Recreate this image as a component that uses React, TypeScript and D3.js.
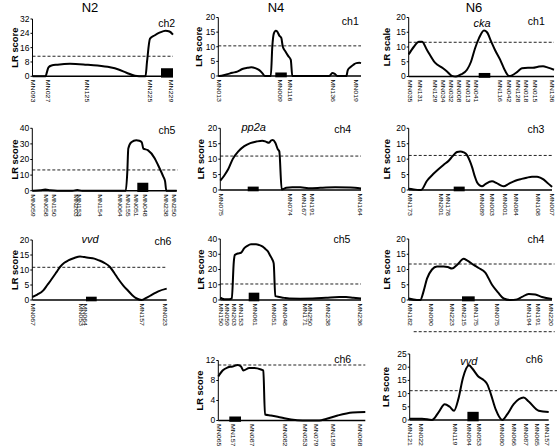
import React from "react";
import * as d3 from "d3";

// ---------------- DATA ----------------
const columnTitles = ["N2", "N4", "N6"];

// N2 ch2
const n2ch2Markers = ["MN093", "MN027", "MN125", "MN225", "MN229"];
const n2ch2MarkerPos = [0, 15.5, 54.5, 117.5, 138.5];
const n2ch2Pos = [0, 13, 14.5, 16, 19, 25, 37.5, 54, 65, 77.5, 86, 94, 102.5, 110.5, 113, 114.5, 117.5, 122, 127.5, 133, 137, 140.5];
const n2ch2Lod = [0, 0, 2.5, 5, 6, 6.5, 7, 6.5, 6, 5, 3.8, 2, 0.3, 0, 0, 8, 21, 22.8, 24.5, 25.5, 25, 23.3];

// N4 ch1
const n4ch1Markers = ["MN013", "MN009", "MN116", "MN136", "MN019"];
const n4ch1MarkerPos = [0.7, 61.7, 71.7, 114.7, 137.7];
const n4ch1Pos = [0, 1, 8, 14, 19, 24, 29, 33, 37, 41, 44, 46.5, 52.5, 54, 55.5, 57.5, 59, 61, 63, 64.5, 67, 70, 72.5, 74, 111, 114, 116.5, 119, 128, 129.5, 132, 135, 138, 141, 142.7];
const n4ch1Lod = [0, 0, 0.5, 1.1, 1.5, 2.4, 2.8, 3, 2.7, 2, 1, 0, 0, 10, 14.5, 15.5, 15.2, 13.8, 13, 10, 8.5, 6.8, 5.5, 0, 0, 1, 0.7, 0, 0, 2, 3, 3.8, 4.4, 4.5, 4.4];

// N6 ch1
const n6ch1Markers = ["MN035", "MN131", "MN129", "MN034", "MN032", "MN008", "MN013", "MN041", "MN116", "MN042", "MN128", "MN018", "MN015", "MN136"];
const n6ch1MarkerPos = [1, 11, 26, 34.3, 42.3, 50.3, 59.3, 67.3, 91.3, 100, 109.3, 117.3, 126, 143.3];
const n6ch1Pos = [0, 5, 10.3, 13.3, 18.3, 26.3, 34.3, 38.3, 43.3, 47.3, 52.3, 58.3, 62.3, 66.3, 70.3, 75.3, 78.3, 82.3, 86.3, 91.3, 96.3, 100.3, 103.3, 108.3, 113.3, 119.3, 124.3, 129.3, 134.3, 139.3, 145.3];
const n6ch1Lod = [7.5, 10, 11.8, 11.8, 9, 4.7, 2.8, 1.7, 0.2, 0, 0.7, 2.3, 5, 9.5, 13, 15.6, 15, 12, 9, 5.8, 2, 0.2, 0.4, 1.5, 2.8, 3, 3, 3.3, 3.5, 3, 2.3];

// N2 ch5
const n2ch5Markers = ["MN059", "MN058", "MN150", "MN203", "MN153", "MN154", "MN064", "MN155", "MN051", "MN048", "MN238", "MN250"];
const n2ch5MarkerPos = [0, 13.4, 21, 43.7, 46.7, 67.7, 87.7, 95.4, 103.4, 112, 133.4, 141];
const n2ch5Pos = [0, 8, 13, 18, 25, 40, 45, 50, 93.5, 95, 96, 99, 104, 107, 109.5, 111, 115.5, 122.5, 125.7, 129, 131, 132.8, 134, 144.4];
const n2ch5Lod = [0, 0.3, 0.7, 0.3, 0, 0, 0.4, 0, 0, 12, 27, 31, 32.3, 32, 31, 27, 26, 20.7, 16.5, 12, 9, 6, 0, 0];

// N4 ch4
const n4ch4Markers = ["MN075", "MN074", "MN167", "MN191", "MN164"];
const n4ch4MarkerPos = [0, 69.7, 83.4, 91.4, 139];
const n4ch4Pos = [0, 4, 8, 12.4, 18, 24, 30, 36, 42, 46, 48.5, 51, 52.5, 55, 57.5, 59, 61.4, 66, 72, 80, 88, 100, 115, 130, 140.7];
const n4ch4Lod = [3, 4.7, 6.8, 10, 12.5, 14.2, 15.2, 15.7, 16, 15.6, 15.3, 16.1, 16.2, 15.3, 13.2, 12.5, 0.2, 0.7, 0.9, 0.9, 0.6, 0.7, 0.9, 0.8, 0.5];

// N6 ch3
const n6ch3Markers = ["MN173", "MN201", "MN178", "MN089", "MN003", "MN001", "MN084", "MN108", "MN007"];
const n6ch3MarkerPos = [1.3, 31.6, 39.3, 73.3, 83.3, 96, 106.6, 129, 142.6];
const n6ch3Pos = [0, 5, 10, 12.3, 18.3, 24, 30, 35, 40, 44, 48.3, 51.6, 55, 58.3, 61, 63.3, 66, 68.3, 71, 73.3, 77, 83.3, 88, 92, 95, 100, 106.6, 113, 118, 123.3, 128.3, 131.5, 134.3, 138, 143.3];
const n6ch3Lod = [0.4, 0.2, 0, 0, 3, 5, 6.8, 8.2, 9.5, 11, 12.3, 12.5, 12.2, 11.3, 9.5, 7.5, 4.5, 2.5, 1.5, 1.2, 2, 2.8, 2.2, 1.5, 1.2, 2, 3, 3.6, 4, 4.3, 4.3, 4, 3.5, 2.5, 1];

// N2 ch6
const n2ch6Markers = ["MN067", "MN053", "MN064", "MN157", "MN023"];
const n2ch6MarkerPos = [0, 48.5, 52, 109.4, 132];
const n2ch6Pos = [0, 5, 11, 15, 19.4, 24, 27.7, 32, 36, 42, 47.7, 52, 56, 62, 66, 72, 77.7, 82, 86, 91, 96, 100, 104.4, 109.4, 114, 119.4, 126, 134.4];
const n2ch6Lod = [1, 1.8, 3.2, 5, 7, 9.2, 11, 12.4, 13.2, 14, 14.5, 14.3, 14.1, 13.8, 13.3, 12.4, 11, 9, 7, 4.8, 3, 1.6, 0.5, 0, 0.7, 1.7, 2.9, 3.8];

// N4 ch5
const n4ch5Markers = ["MN150", "MN059", "MN203", "MN153", "MN061", "MN051", "MN048", "MN171", "MN250", "MN238", "MN236"];
const n4ch5MarkerPos = [0, 6.4, 13.4, 20.7, 34, 53.4, 64.7, 84, 89.7, 107.4, 139];
const n4ch5Pos = [0, 2, 4, 9, 11.5, 13.5, 14.5, 17.4, 20.7, 24, 27, 30.7, 35.7, 39, 42.4, 45, 47.4, 50, 51.7, 53.4, 55, 59, 64, 69, 80, 92.4, 105.7, 119, 125.7, 133, 140.7];
const n4ch5Lod = [1.5, 0.8, 0.5, 0.5, 1, 25, 29.5, 30.5, 31, 34, 35.5, 36.5, 36.5, 36, 35, 33.5, 32, 29, 27, 24, 2.5, 2, 1.4, 1, 0.9, 1, 1.5, 2, 2, 1.5, 1];

// N6 ch4
const n6ch4Markers = ["MN182", "MN090", "MN223", "MN215", "MN175", "MN075", "MN194", "MN191", "MN220"];
const n6ch4MarkerPos = [1, 21.6, 43.3, 55, 66.6, 88.3, 120, 129, 142.3];
const n6ch4Pos = [0, 8.3, 11.6, 15, 18.3, 23.3, 28.3, 35, 39, 43.3, 48.3, 55, 58.3, 65, 70, 76.6, 83.3, 89.3, 95, 101.6, 108.3, 113.3, 120, 126.6, 133.3, 143.3];
const n6ch4Lod = [0.5, 0, 0, 3, 7, 10, 11, 11, 10.8, 10.3, 11.5, 13.5, 13, 11.5, 10.5, 9, 5, 2.5, 0.5, 0, 0.2, 1, 2, 1.8, 1, 0.3];

// N4 ch6
const n4ch6Markers = ["MN065", "MN157", "MN087", "MN082", "MN053", "MN079", "MN159", "MN068"];
const n4ch6MarkerPos = [0, 14.4, 33.4, 66, 86, 97.7, 114.4, 141.7];
const n4ch6Pos = [0, 4.3, 9.3, 14.3, 19.3, 22.7, 25, 31, 36, 42.7, 45, 46.7, 52.7, 62.7, 72.7, 84.3, 101, 107.7, 119.3, 134.3, 147];
const n4ch6Lod = [8.8, 10, 10.6, 10.8, 11.1, 10.8, 10, 10.5, 10.5, 10.2, 10, 1.2, 1, 0.6, 0.2, 0, 0, 0.3, 1, 1.6, 1.7];

// N6 ch6
const n6ch6Markers = ["MN121", "MN022", "MN119", "MN094", "MN053", "MN080", "MN066", "MN087", "MN065", "MN157"];
const n6ch6MarkerPos = [0, 10.6, 44.6, 59, 69, 92.3, 104, 115.6, 127.3, 137.3];
const n6ch6Pos = [0, 12.3, 22.3, 29, 35, 40, 44.3, 48.7, 53.3, 59.3, 62.6, 68.6, 74.3, 77.6, 81, 86, 92.6, 97.3, 104, 114, 119, 129, 139];
const n6ch6Lod = [0.5, 0.5, 0, 3, 6, 5, 3.5, 8, 16, 20.7, 19.5, 16.5, 15, 13.5, 10, 4, 0, 2, 6, 8.5, 7, 3.5, 3];

// map lengths, y maxima, y tick steps, LR thresholds, QTL boxes [start, end, height]
const mapLengths = [140.5, 142.7, 145.3, 144.4, 140.7, 143.3, 134.4, 140.7, 143.3, 147, 139];
const yMaxima = [32, 20, 20, 40, 20, 20, 20, 40, 20, 12, 25];
const ySteps = [8, 5, 5, 10, 5, 5, 5, 10, 5, 4, 5];
const thresholds = [11.2, 10.3, 11.6, 13.3, 11, 11.2, 10.9, 10.5, 11.8, 11.1, 11.1];
const qtlBoxes: [number, number, number][] = [
  [128.5, 140.5, 4.5], [57, 68.5, 1.2], [70, 81.6, 1.2], [105, 116, 5.1], [27.4, 38.4, 1.1],
  [45, 56, 1.1], [53.7, 64.4, 1.1], [28.4, 39, 4.8], [53.3, 66, 1.2], [11, 22.7, 0.8], [57.7, 69, 3.1],
];
const chrLabels = ["ch2", "ch1", "ch1", "ch5", "ch4", "ch3", "ch6", "ch5", "ch4", "ch6", "ch6"];
const geneLabels = ["", "", "cka", "", "pp2a", "", "vvd", "", "", "", "vvd"];
const yTitles = ["LR score", "LR score", "LR scale", "LR score", "LR score", "LR score", "LR score", "LR score", "LR score", "LR score", "LR score"];

const markerSets = [n2ch2Markers, n4ch1Markers, n6ch1Markers, n2ch5Markers, n4ch4Markers, n6ch3Markers, n2ch6Markers, n4ch5Markers, n6ch4Markers, n4ch6Markers, n6ch6Markers];
const markerPosSets = [n2ch2MarkerPos, n4ch1MarkerPos, n6ch1MarkerPos, n2ch5MarkerPos, n4ch4MarkerPos, n6ch3MarkerPos, n2ch6MarkerPos, n4ch5MarkerPos, n6ch4MarkerPos, n4ch6MarkerPos, n6ch6MarkerPos];
const posSets = [n2ch2Pos, n4ch1Pos, n6ch1Pos, n2ch5Pos, n4ch4Pos, n6ch3Pos, n2ch6Pos, n4ch5Pos, n6ch4Pos, n4ch6Pos, n6ch6Pos];
const lodSets = [n2ch2Lod, n4ch1Lod, n6ch1Lod, n2ch5Lod, n4ch4Lod, n6ch3Lod, n2ch6Lod, n4ch5Lod, n6ch4Lod, n4ch6Lod, n6ch6Lod];

// ---------------- LAYOUT ----------------
const layouts = [
  { x0: 32.5, x1: 173, top: 19, bottom: 76.3, tx: 15, chX: 166.7, chY: 27, gX: 0, gY: 0, thrEnd: 0 },
  { x0: 218.3, x1: 361, top: 17.5, bottom: 76, tx: 198.3, chX: 350.3, chY: 25, gX: 0, gY: 0, thrEnd: 0 },
  { x0: 408.7, x1: 554, top: 17.5, bottom: 76.5, tx: 387, chX: 536.3, chY: 25, gX: 482, gY: 27, thrEnd: 0 },
  { x0: 32.3, x1: 176.7, top: 128.3, bottom: 190.7, tx: 15, chX: 167, chY: 134, gX: 0, gY: 0, thrEnd: 1 },
  { x0: 220.3, x1: 361, top: 128.3, bottom: 190, tx: 201, chX: 342.7, chY: 133, gX: 253.7, gY: 131, thrEnd: 0 },
  { x0: 408.7, x1: 552, top: 128.3, bottom: 190, tx: 387, chX: 536, chY: 133, gX: 0, gY: 0, thrEnd: 0 },
  { x0: 32.3, x1: 166.7, top: 240, bottom: 300, tx: 15, chX: 163, chY: 245, gX: 90, gY: 243, thrEnd: 0 },
  { x0: 220.3, x1: 361, top: 239, bottom: 300, tx: 201, chX: 342, chY: 243, gX: 0, gY: 0, thrEnd: 0 },
  { x0: 408.7, x1: 552, top: 239, bottom: 300, tx: 387, chX: 536, chY: 243, gX: 0, gY: 0, thrEnd: 2.5 },
  { x0: 218.3, x1: 365.3, top: 360.5, bottom: 420.5, tx: 200, chX: 342.7, chY: 363, gX: 0, gY: 0, thrEnd: 0 },
  { x0: 409.7, x1: 548.7, top: 354, bottom: 420, tx: 386, chX: 534.3, chY: 363, gX: 468.7, gY: 365, thrEnd: 8.3 },
];
const titleX = [90, 276, 474];

const FONT = "'Liberation Sans', Arial, Helvetica, sans-serif";

function Panel({ i }: { i: number }) {
  const L = layouts[i];
  const x = d3.scaleLinear().domain([0, mapLengths[i]]).range([L.x0, L.x1]);
  const y = d3.scaleLinear().domain([0, yMaxima[i]]).range([L.bottom, L.top]);
  const pts: [number, number][] = posSets[i].map((p, k) => [p, lodSets[i][k]]);
  const line = d3
    .line<[number, number]>()
    .x((d) => x(d[0]))
    .y((d) => y(d[1]))
    .curve(d3.curveMonotoneX);
  const ticks = d3.range(0, yMaxima[i] + 1e-9, ySteps[i]);
  const box = qtlBoxes[i];
  const boxTop = y(box[2]);
  const boxBottom = y(0) + 1.3;
  const thrY = y(thresholds[i]);
  return (
    <g>
      <line x1={L.x0} x2={L.x1 + L.thrEnd} y1={thrY} y2={thrY} stroke="#222" strokeWidth={1} strokeDasharray="3,2" />
      <rect x={x(box[0])} y={boxTop} width={x(box[1]) - x(box[0])} height={boxBottom - boxTop} fill="#000" />
      <line x1={L.x0} x2={L.x0} y1={L.top} y2={L.bottom} stroke="#000" strokeWidth={1} />
      <line x1={L.x0} x2={L.x1} y1={L.bottom} y2={L.bottom} stroke="#000" strokeWidth={1.5} />
      {ticks.map((t) => (
        <g key={t}>
          <line x1={L.x0 - 2} x2={L.x0} y1={y(t)} y2={y(t)} stroke="#000" strokeWidth={1} />
          <text x={L.x0 - 3} y={y(t)} dy="0.35em" textAnchor="end" fontSize={8.5} fontFamily={FONT}>
            {t}
          </text>
        </g>
      ))}
      <path d={line(pts) || ""} fill="none" stroke="#000" strokeWidth={2} strokeLinejoin="round" />
      {markerSets[i].map((m, k) => {
        const mx = x(markerPosSets[i][k]);
        const my = L.bottom + 3.5;
        return (
          <text
            key={m + k}
            transform={`translate(${mx},${my}) rotate(90) scale(1,0.72)`}
            dy="0.35em"
            fontSize={7}
            fontFamily={FONT}
          >
            {m}
          </text>
        );
      })}
      <text
        transform={`translate(${L.tx},${(L.top + L.bottom) / 2}) rotate(-90)`}
        textAnchor="middle"
        dy="0.35em"
        fontSize={9.4}
        fontWeight="bold"
        fontFamily={FONT}
      >
        {yTitles[i]}
      </text>
      <text x={L.chX} y={L.chY} textAnchor="middle" fontSize={10.5} fontFamily={FONT}>
        {chrLabels[i]}
      </text>
      {geneLabels[i] && (
        <text x={L.gX} y={L.gY} textAnchor="middle" fontSize={11} fontStyle="italic" fontFamily={FONT}>
          {geneLabels[i]}
        </text>
      )}
    </g>
  );
}

export default function App() {
  return (
    <svg
      width={558}
      height={448}
      viewBox="0 0 558 448"
      style={{ position: "absolute", left: 0, top: 0, background: "#fff", display: "block" }}
    >
      <rect x={0} y={0} width={558} height={448} fill="#fff" />
      {columnTitles.map((t, k) => (
        <text key={t} x={titleX[k]} y={12} textAnchor="middle" fontSize={13} fontFamily={FONT}>
          {t}
        </text>
      ))}
      {layouts.map((_, i) => (
        <Panel key={i} i={i} />
      ))}
      <line x1={413.7} x2={554.7} y1={331.7} y2={331.7} stroke="#222" strokeWidth={1} strokeDasharray="3,2" />
    </svg>
  );
}
